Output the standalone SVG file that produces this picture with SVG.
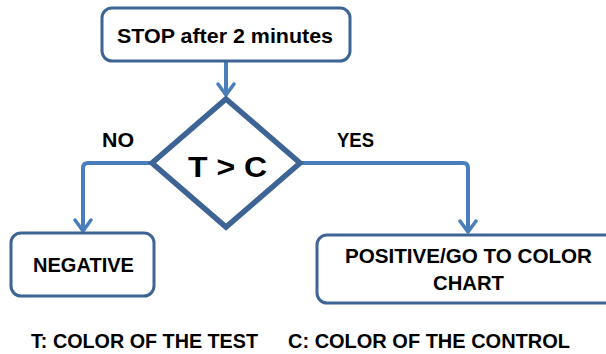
<svg xmlns="http://www.w3.org/2000/svg" width="606" height="354" viewBox="0 0 606 354">
<defs>
<style>
.box{fill:#fff;stroke:#3D6495;stroke-width:3}
.dia{fill:#fff;stroke:#3D6495;stroke-width:5.5;stroke-linejoin:miter}
.con{fill:none;stroke:#4A7EBB;stroke-width:4;stroke-linejoin:round}
.head{fill:none;stroke:#4A7EBB;stroke-width:3.5;stroke-linecap:round;stroke-linejoin:round}
text{font-family:"Liberation Sans",Arial,sans-serif;font-weight:bold;fill:#000}
.t{font-size:20.5px}
.big{font-size:29px}
</style>
</defs>
<rect width="606" height="354" fill="#fff"/>
<g id="connectors">
<path class="con" d="M226,62 V95"/>
<path class="head" d="M218,84 L226,95 L234,84"/>
<path class="con" d="M152,163 H88 Q83,163 83,168 V231"/>
<path class="head" d="M75,220 L83,231 L91,220"/>
<path class="con" d="M300,163 H463 Q468,163 468,168 V232"/>
<path class="head" d="M460,221 L468,232 L476,221"/>
</g>
<g id="start">
<rect class="box" x="102" y="8" width="248" height="53" rx="10"/>
<text class="t" x="225" y="43" text-anchor="middle" textLength="216" lengthAdjust="spacingAndGlyphs">STOP after 2 minutes</text>
</g>
<g id="decision">
<polygon class="dia" points="226,99 300,163 226,227 152,163"/>
<text class="big" x="227.5" y="177" text-anchor="middle" textLength="79" lengthAdjust="spacingAndGlyphs">T &gt; C</text>
</g>
<g id="labels">
<text class="t" x="118" y="147" text-anchor="middle" textLength="32" lengthAdjust="spacingAndGlyphs">NO</text>
<text class="t" x="355.5" y="147" text-anchor="middle" textLength="37" lengthAdjust="spacingAndGlyphs">YES</text>
</g>
<g id="negative">
<rect class="box" x="11" y="233" width="143" height="63" rx="10"/>
<text class="t" x="83.5" y="272" text-anchor="middle" textLength="101" lengthAdjust="spacingAndGlyphs">NEGATIVE</text>
</g>
<g id="positive">
<rect class="box" x="317" y="235" width="300" height="68" rx="10"/>
<text class="t" x="468.5" y="263" text-anchor="middle" textLength="247" lengthAdjust="spacingAndGlyphs">POSITIVE/GO TO COLOR</text>
<text class="t" x="468.5" y="290" text-anchor="middle" textLength="71" lengthAdjust="spacingAndGlyphs">CHART</text>
</g>
<g id="legend">
<text class="t" x="31" y="348" textLength="227" lengthAdjust="spacingAndGlyphs">T: COLOR OF THE TEST</text>
<text class="t" x="288" y="348" textLength="282" lengthAdjust="spacingAndGlyphs">C: COLOR OF THE CONTROL</text>
</g>
</svg>
